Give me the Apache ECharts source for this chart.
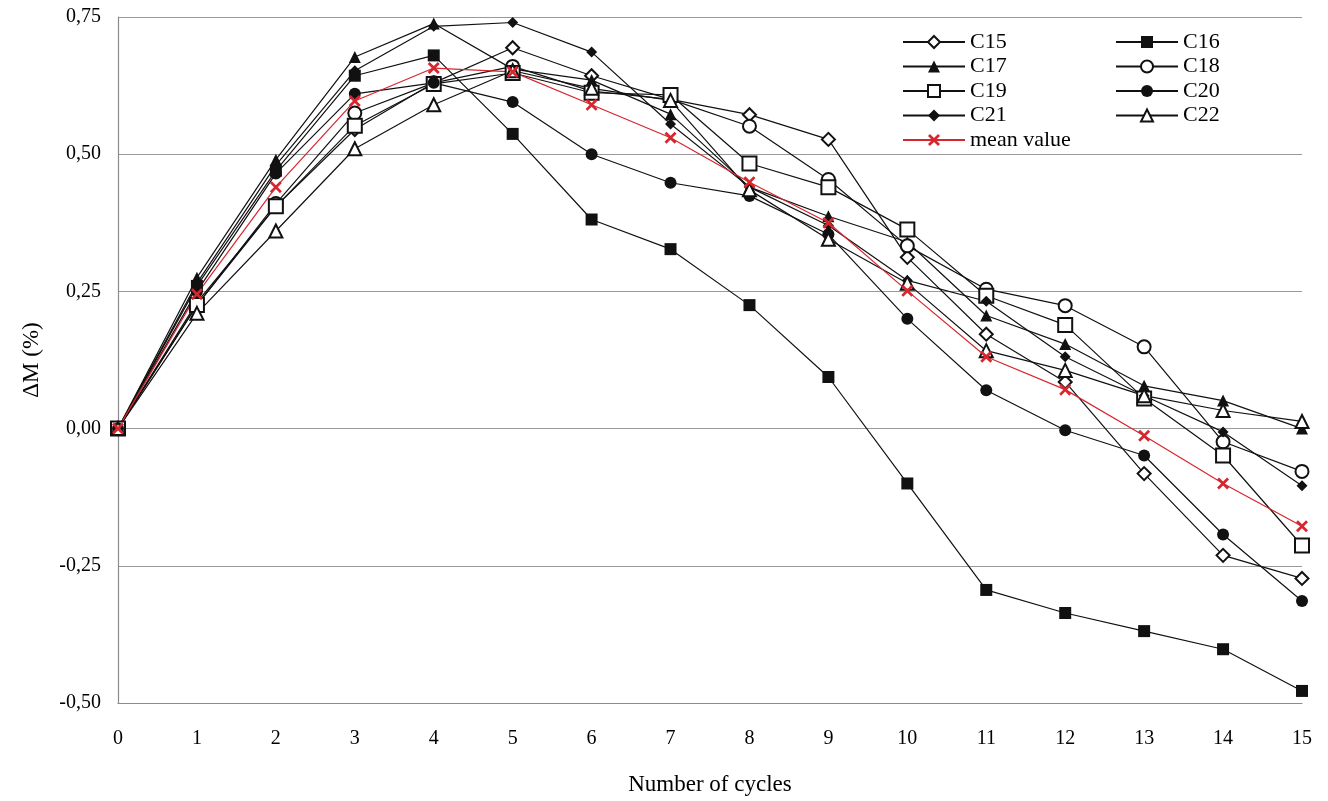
<!DOCTYPE html>
<html>
<head>
<meta charset="utf-8">
<script src="https://cdn.jsdelivr.net/npm/echarts@6/dist/echarts.min.js"></script>
<style>
html,body{margin:0;padding:0;background:#fff;}
#chart{width:1328px;height:801px;}
</style>
</head>
<body>
<div id="chart"></div>
<script>
const cycles = [0,1,2,3,4,5,6,7,8,9,10,11,12,13,14,15];
const C15 = [0, 0.23, 0.405, 0.545, 0.63, 0.694, 0.643, 0.60, 0.572, 0.527, 0.312, 0.172, 0.085, -0.082, -0.231, -0.273];
const C16 = [0, 0.26, 0.47, 0.643, 0.68, 0.537, 0.381, 0.327, 0.225, 0.094, -0.10, -0.294, -0.336, -0.369, -0.402, -0.478];
const C17 = [0, 0.275, 0.49, 0.677, 0.738, 0.655, 0.635, 0.573, 0.44, 0.387, 0.34, 0.206, 0.154, 0.078, 0.051, 0.0];
const C18 = [0, 0.225, 0.41, 0.575, 0.63, 0.66, 0.615, 0.60, 0.551, 0.454, 0.333, 0.254, 0.224, 0.149, -0.024, -0.078];
const C19 = [0, 0.225, 0.405, 0.552, 0.628, 0.648, 0.612, 0.608, 0.483, 0.44, 0.363, 0.242, 0.189, 0.055, -0.049, -0.213];
const C20 = [0, 0.25, 0.465, 0.61, 0.63, 0.595, 0.50, 0.448, 0.424, 0.354, 0.20, 0.07, -0.003, -0.049, -0.193, -0.314];
const C21 = [0, 0.265, 0.48, 0.652, 0.733, 0.74, 0.686, 0.555, 0.44, 0.37, 0.27, 0.232, 0.131, 0.06, -0.006, -0.104];
const C22 = [0, 0.21, 0.36, 0.51, 0.59, 0.652, 0.62, 0.598, 0.435, 0.345, 0.265, 0.142, 0.106, 0.06, 0.033, 0.013];
const meanValue = [0, 0.245, 0.44, 0.597, 0.657, 0.65, 0.59, 0.53, 0.449, 0.375, 0.251, 0.131, 0.071, -0.013, -0.10, -0.178];

const yTickValues = [-0.5, -0.25, 0, 0.25, 0.5, 0.75];
const yTickLabels = ['-0,50', '-0,25', '0,00', '0,25', '0,50', '0,75'];
const xTitle = 'Number of cycles';
const yTitle = 'ΔM (%)';

const FONT = '"Liberation Serif", "Times New Roman", serif';
const XMARK = 'path://M0,1.6 L1.6,0 L5,3.4 L8.4,0 L10,1.6 L6.6,5 L10,8.4 L8.4,10 L5,6.6 L1.6,10 L0,8.4 L3.4,5 Z';

function mk(name, values, symbol, size, color) {
  const c = color || '#111';
  return {
    name: name,
    type: 'line',
    data: cycles.map((x, i) => [x, values[i]]),
    symbol: symbol,
    symbolSize: size,
    showSymbol: true,
    lineStyle: { color: c, width: 1.2 },
    itemStyle: { color: c, borderColor: c, borderWidth: symbol.indexOf('empty') === 0 ? 1.3 : 0 },
    emphasis: { disabled: true },
    animation: false
  };
}

const series = [
  mk('C15', C15, 'emptyDiamond', 13),
  mk('C16', C16, 'rect', 12),
  mk('C17', C17, 'triangle', 12),
  mk('C18', C18, 'emptyCircle', 13),
  mk('C19', C19, 'emptyRect', 14),
  mk('C20', C20, 'circle', 12),
  mk('C21', C21, 'diamond', 11),
  mk('C22', C22, 'emptyTriangle', 13),
  mk('mean value', meanValue, XMARK, 12, '#d7262e')
];

const legendText = { fontFamily: FONT, fontSize: 22, lineHeight: 22, color: '#000' };

const chart = echarts.init(document.getElementById('chart'), null, { renderer: 'canvas' });
chart.setOption({
  animation: false,
  backgroundColor: '#fff',
  grid: { left: 118, right: 26, top: 17, bottom: 96, containLabel: false },
  legend: [
    { data: ['C15','C17','C19','C21','mean value'], orient: 'vertical', left: 897, top: 26,
      itemWidth: 62, itemHeight: 15, itemGap: 2.5, selectedMode: false, textStyle: legendText },
    { data: ['C16','C18','C20','C22'], orient: 'vertical', left: 1110, top: 26,
      itemWidth: 62, itemHeight: 15, itemGap: 2.5, selectedMode: false, textStyle: legendText }
  ],
  xAxis: {
    type: 'value', min: 0, max: 15, interval: 1,
    name: xTitle, nameLocation: 'middle', nameGap: 70,
    nameTextStyle: { fontFamily: FONT, fontSize: 23, color: '#000' },
    axisLine: { onZero: false, lineStyle: { color: '#8c8c8c', width: 1.2 } },
    axisTick: { show: false },
    axisLabel: { fontFamily: FONT, fontSize: 20, color: '#000', margin: 26 },
    splitLine: { show: false }
  },
  yAxis: {
    type: 'value', min: -0.5, max: 0.75, interval: 0.25,
    name: yTitle, nameLocation: 'middle', nameGap: 75,
    nameTextStyle: { fontFamily: FONT, fontSize: 23, color: '#000' },
    axisLine: { show: true, lineStyle: { color: '#8c8c8c', width: 1.2 } },
    axisTick: { show: false },
    axisLabel: {
      fontFamily: FONT, fontSize: 20, color: '#000', margin: 17,
      formatter: function (v) {
        const i = yTickValues.findIndex(t => Math.abs(t - v) < 1e-9);
        return i >= 0 ? yTickLabels[i] : '';
      }
    },
    splitLine: { show: true, lineStyle: { color: '#9a9a9a', width: 1.2 } }
  },
  series: series
});
</script>
</body>
</html>
